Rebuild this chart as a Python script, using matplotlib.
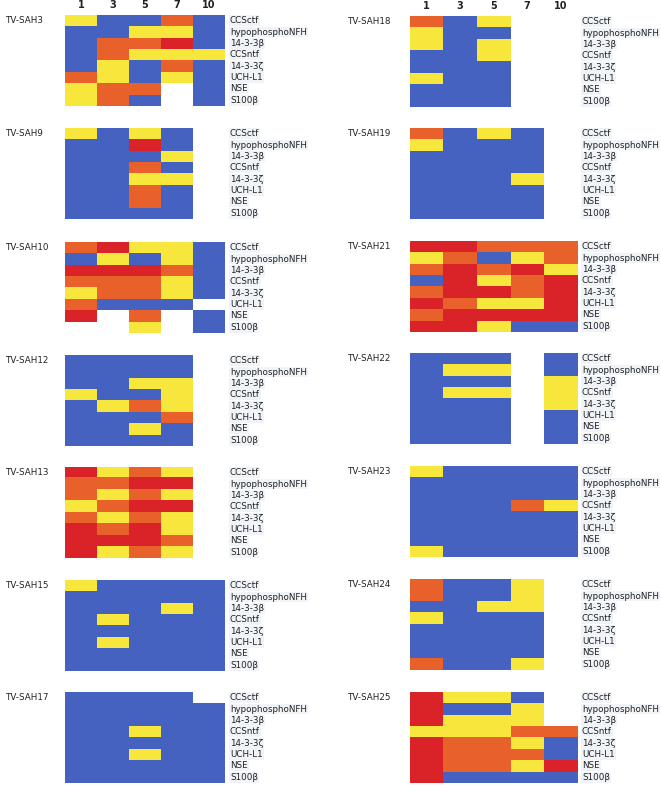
import matplotlib.pyplot as plt
import numpy as np
from matplotlib.colors import ListedColormap, BoundaryNorm
from matplotlib.transforms import blended_transform_factory

# codes: 0 = blue, 1 = yellow, 2 = orange, 3 = red, nan = no sample
B, Y, O, R, N = 0, 1, 2, 3, np.nan

days = ['1', '3', '5', '7', '10']
markers = ['CCSctf', 'hypophosphoNFH', '14-3-3β', 'CCSntf', '14-3-3ζ',
           'UCH-L1', 'NSE', 'S100β']

sah3 = [[Y, B, B, O, B], [B, B, Y, Y, B], [B, O, O, R, B], [B, O, Y, Y, Y],
        [B, Y, B, O, B], [O, Y, B, Y, B], [Y, O, O, N, B], [Y, O, B, N, B]]
sah9 = [[Y, B, Y, B, N], [B, B, R, B, N], [B, B, B, Y, N], [B, B, O, B, N],
        [B, B, Y, Y, N], [B, B, O, B, N], [B, B, O, B, N], [B, B, B, B, N]]
sah10 = [[O, R, Y, Y, B], [B, Y, B, Y, B], [R, R, R, O, B], [O, O, O, Y, B],
         [Y, O, O, Y, B], [O, B, B, B, N], [R, N, O, N, B], [N, N, Y, N, B]]
sah12 = [[B, B, B, B, N], [B, B, B, B, N], [B, B, Y, Y, N], [Y, B, B, Y, N],
         [B, Y, O, Y, N], [B, B, B, O, N], [B, B, Y, B, N], [B, B, B, B, N]]
sah13 = [[R, Y, O, Y, N], [O, O, R, R, N], [O, Y, O, Y, N], [Y, O, R, R, N],
         [O, Y, O, Y, N], [R, O, R, Y, N], [R, R, R, O, N], [R, Y, O, Y, N]]
sah15 = [[Y, B, B, B, B], [B, B, B, B, B], [B, B, B, Y, B], [B, Y, B, B, B],
         [B, B, B, B, B], [B, Y, B, B, B], [B, B, B, B, B], [B, B, B, B, B]]
sah17 = [[B, B, B, B, N], [B, B, B, B, B], [B, B, B, B, B], [B, B, Y, B, B],
         [B, B, B, B, B], [B, B, Y, B, B], [B, B, B, B, B], [B, B, B, B, B]]
sah18 = [[O, B, Y, N, N], [Y, B, B, N, N], [Y, B, Y, N, N], [B, B, Y, N, N],
         [B, B, B, N, N], [Y, B, B, N, N], [B, B, B, N, N], [B, B, B, N, N]]
sah19 = [[O, B, Y, B, N], [Y, B, B, B, N], [B, B, B, B, N], [B, B, B, B, N],
         [B, B, B, Y, N], [B, B, B, B, N], [B, B, B, B, N], [B, B, B, B, N]]
sah21 = [[R, R, O, O, O], [Y, O, B, Y, O], [O, R, O, R, Y], [B, R, Y, O, R],
         [O, R, R, O, R], [R, O, Y, Y, R], [O, R, R, R, R], [R, R, Y, B, B]]
sah22 = [[B, B, B, N, B], [B, Y, Y, N, B], [B, B, B, N, Y], [B, Y, Y, N, Y],
         [B, B, B, N, Y], [B, B, B, N, B], [B, B, B, N, B], [B, B, B, N, B]]
sah23 = [[Y, B, B, B, B], [B, B, B, B, B], [B, B, B, B, B], [B, B, B, O, Y],
         [B, B, B, B, B], [B, B, B, B, B], [B, B, B, B, B], [Y, B, B, B, B]]
sah24 = [[O, B, B, Y, N], [O, B, B, Y, N], [B, B, Y, Y, N], [Y, B, B, B, N],
         [B, B, B, B, N], [B, B, B, B, N], [B, B, B, B, N], [O, B, B, Y, N]]
sah25 = [[R, Y, Y, B, N], [R, B, B, Y, N], [R, Y, Y, Y, N], [Y, Y, Y, O, O],
         [R, O, O, Y, B], [R, O, O, O, B], [R, O, O, Y, R], [R, B, B, B, B]]

left_names = ['TV-SAH3', 'TV-SAH9', 'TV-SAH10', 'TV-SAH12', 'TV-SAH13',
              'TV-SAH15', 'TV-SAH17']
left_data = [sah3, sah9, sah10, sah12, sah13, sah15, sah17]
right_names = ['TV-SAH18', 'TV-SAH19', 'TV-SAH21', 'TV-SAH22', 'TV-SAH23',
               'TV-SAH24', 'TV-SAH25']
right_data = [sah18, sah19, sah21, sah22, sah23, sah24, sah25]

W, H = 661, 786
cmap = ListedColormap(['#4562c0', '#f7e63c', '#e8602a', '#d92329'])
cmap.set_bad('white')
norm = BoundaryNorm([-0.5, 0.5, 1.5, 2.5, 3.5], cmap.N)
txt = dict(fontsize=6.3, color='#222222', family='DejaVu Sans')


def panel(fig, x0, width, top, name, data, header):
    height = 91
    ax = fig.add_axes([x0 / W, 1 - (top + height) / H, width / W, height / H])
    arr = np.ma.masked_invalid(np.array(data, dtype=float))
    ax.imshow(arr, cmap=cmap, norm=norm, aspect='auto',
              interpolation='nearest')
    ax.set_axis_off()
    tr = blended_transform_factory(ax.transAxes, ax.transData)
    for i, m in enumerate(markers):
        ax.text(1 + 5 / width, i, m, transform=tr, ha='left', va='center',
                bbox=dict(boxstyle='square,pad=0.1', fc='#f0f4f8', ec='none'),
                **txt)
    ax.text(-(x0 - (5 if x0 < 300 else 347)) / width, 0, name,
            transform=tr, ha='left', va='center', **txt)
    if header:
        trh = blended_transform_factory(ax.transData, ax.transAxes)
        for j, d in enumerate(days):
            ax.text(j, 1 + 10 / height, d, transform=trh, ha='center',
                    va='center', fontsize=7, fontweight='bold',
                    color='#222222')


fig = plt.figure(figsize=(W / 100, H / 100), dpi=100)
left_tops = [15, 128, 242, 355, 467, 580, 692]
right_tops = [16, 128, 241, 353, 466, 579, 692]

for k in range(7):
    panel(fig, 65, 160, left_tops[k], left_names[k], left_data[k], k == 0)
    panel(fig, 410, 167, right_tops[k], right_names[k], right_data[k], k == 0)

fig.savefig('out.png', dpi=100)
